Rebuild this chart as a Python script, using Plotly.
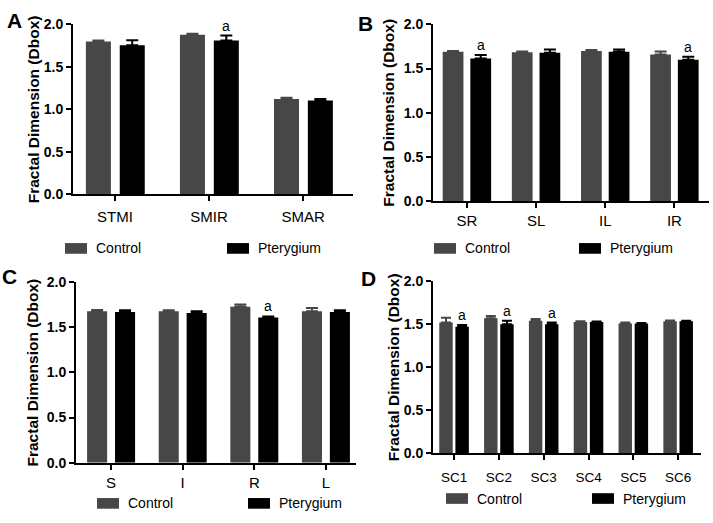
import plotly.graph_objects as go

# ---------------- data ----------------
a_cats = ["STMI", "SMIR", "SMAR"]
a_control = [1.80, 1.88, 1.12]
a_control_err = [0.01, 0.012, 0.015]
a_pter = [1.755, 1.81, 1.105]
a_pter_err = [0.06, 0.06, 0.017]
a_sig = [False, True, False]

b_cats = ["SR", "SL", "IL", "IR"]
b_control = [1.69, 1.685, 1.70, 1.66]
b_control_err = [0.01, 0.01, 0.01, 0.035]
b_pter = [1.615, 1.68, 1.69, 1.60]
b_pter_err = [0.04, 0.035, 0.025, 0.035]
b_sig = [True, False, False, True]

c_cats = ["S", "I", "R", "L"]
c_control = [1.68, 1.68, 1.73, 1.68]
c_control_err = [0.012, 0.01, 0.025, 0.035]
c_pter = [1.67, 1.66, 1.61, 1.67]
c_pter_err = [0.02, 0.02, 0.012, 0.02]
c_sig = [False, False, True, False]

d_cats = ["SC1", "SC2", "SC3", "SC4", "SC5", "SC6"]
d_control = [1.52, 1.57, 1.54, 1.525, 1.51, 1.535]
d_control_err = [0.055, 0.025, 0.02, 0.01, 0.01, 0.01]
d_pter = [1.47, 1.50, 1.50, 1.525, 1.51, 1.535]
d_pter_err = [0.02, 0.04, 0.02, 0.008, 0.006, 0.005]
d_sig = [True, True, True, False, False, False]

y_ticks = [0.0, 0.5, 1.0, 1.5, 2.0]
y_title = "Fractal Dimension (Dbox)"
series_names = ["Control", "Pterygium"]
panel_letters = ["A", "B", "C", "D"]

# ---------------- layout geometry (pixels) ----------------
W, H = 713, 523
CTRL_COLOR = "#474747"
PTER_COLOR = "#000000"
FONT = "Liberation Sans, Arial, sans-serif"

panels = [
    dict(cats=a_cats, c=a_control, ce=a_control_err, p=a_pter, pe=a_pter_err, sig=a_sig,
         x0=73, x1=353, ytop=17, ybot=192, xr=[-0.447, 2.53],
         off_c=-0.31, off_p=0.05, bw=0.266, ticksize=15, standoff=3,
         title_x=33, letter=(14, 13), leg_y=248, leg_c=65, leg_p=227, errw=6),
    dict(cats=b_cats, c=b_control, ce=b_control_err, p=b_pter, pe=b_pter_err, sig=b_sig,
         x0=433, x1=709, ytop=17, ybot=199, xr=[-0.49, 3.5],
         off_c=-0.35, off_p=0.05, bw=0.30, ticksize=15, standoff=0,
         title_x=389, letter=(365, 16), leg_y=248, leg_c=434, leg_p=579, errw=6),
    dict(cats=c_cats, c=c_control, ce=c_control_err, p=c_pter, pe=c_pter_err, sig=c_sig,
         x0=76, x1=356, ytop=283, ybot=469, xr=[-0.49, 3.42],
         off_c=-0.335, off_p=0.055, bw=0.28, ticksize=15, standoff=0,
         title_x=32, letter=(9, 277), leg_y=511, leg_c=97, leg_p=248, errw=6),
    dict(cats=d_cats, c=d_control, ce=d_control_err, p=d_pter, pe=d_pter_err, sig=d_sig,
         x0=433, x1=701, ytop=282, ybot=459, xr=[-0.47, 5.51],
         off_c=-0.33, off_p=0.03, bw=0.30, ticksize=13.5, standoff=6,
         title_x=393, letter=(368, 279), leg_y=506, leg_c=446, leg_p=592, errw=5),
]

fig = go.Figure()
annotations = []
shapes = []

for i, pn in enumerate(panels):
    k = "" if i == 0 else str(i + 1)
    xa, ya = "x" + k, "y" + k
    idx = list(range(len(pn["cats"])))
    for vals, errs, off, col, name in [
        (pn["c"], pn["ce"], pn["off_c"], CTRL_COLOR, series_names[0]),
        (pn["p"], pn["pe"], pn["off_p"], PTER_COLOR, series_names[1]),
    ]:
        fig.add_trace(go.Bar(
            x=idx, y=vals, width=pn["bw"], offset=off, name=name,
            marker=dict(color=col, line=dict(width=0)),
            error_y=dict(type="data", symmetric=False, array=errs,
                         arrayminus=[0] * len(errs), color=col,
                         thickness=2, width=pn["errw"]),
            xaxis=xa, yaxis=ya, showlegend=False,
        ))
    # significance marks
    for j, s in enumerate(pn["sig"]):
        if s:
            annotations.append(dict(
                x=j + pn["off_p"] + pn["bw"] / 2, y=pn["p"][j] + pn["pe"][j],
                xref=xa, yref=ya, text="a", showarrow=False,
                yanchor="bottom", yshift=0,
                font=dict(family=FONT, size=14, color="black")))
    dom_x = [pn["x0"] / W, pn["x1"] / W]
    dom_y = [1 - pn["ybot"] / H, 1 - pn["ytop"] / H]
    fig.layout["xaxis" + k] = dict(
        domain=dom_x, range=pn["xr"], anchor=ya,
        tickvals=idx, ticktext=pn["cats"], ticks="outside", ticklen=5,
        tickwidth=2, tickcolor="black", showline=True, linewidth=2,
        linecolor="black", showgrid=False, zeroline=False,
        ticklabelstandoff=pn["standoff"],
        tickfont=dict(family=FONT, size=pn["ticksize"], color="black"),
    )
    fig.layout["yaxis" + k] = dict(
        domain=dom_y, range=[0, 2.0], anchor=xa,
        tickvals=y_ticks, ticktext=[f"{v:.1f}" for v in y_ticks],
        ticks="outside", ticklen=5, tickwidth=2, tickcolor="black",
        showline=True, linewidth=2, linecolor="black",
        showgrid=False, zeroline=False,
        tickfont=dict(family=FONT, size=14, color="black", weight="bold"),
    )
    # y title
    annotations.append(dict(
        x=pn["title_x"] / W, y=1 - (pn["ytop"] + pn["ybot"]) / 2 / H,
        xref="paper", yref="paper", text=y_title, textangle=-90,
        showarrow=False, xanchor="center", yanchor="middle",
        font=dict(family=FONT, size=15.5, color="black", weight="bold")))
    # panel letter
    annotations.append(dict(
        x=pn["letter"][0] / W, y=1 - pn["letter"][1] / H,
        xref="paper", yref="paper", text=panel_letters[i], showarrow=False,
        xanchor="center", yanchor="middle",
        font=dict(family=FONT, size=21, color="black", weight="bold")))
    # legend
    for lx, col, name in [(pn["leg_c"], CTRL_COLOR, series_names[0]),
                          (pn["leg_p"], PTER_COLOR, series_names[1])]:
        shapes.append(dict(
            type="rect", xref="paper", yref="paper",
            x0=lx / W, x1=(lx + 22) / W,
            y0=1 - (pn["leg_y"] + 5.5) / H, y1=1 - (pn["leg_y"] - 5.5) / H,
            fillcolor=col, line=dict(width=0)))
        annotations.append(dict(
            x=(lx + 29) / W, y=1 - pn["leg_y"] / H, xref="paper", yref="paper",
            text=name, showarrow=False, xanchor="left", yanchor="middle",
            font=dict(family=FONT, size=14, color="black")))

fig.update_layout(
    width=W, height=H, margin=dict(l=0, r=0, t=0, b=0),
    paper_bgcolor="white", plot_bgcolor="white",
    annotations=annotations, shapes=shapes, barmode="overlay",
    font=dict(family=FONT, color="black"),
)
fig.write_html(
    "out.html",
    config={"displayModeBar": False},
    post_script="document.body.style.margin='0';document.body.style.overflow='hidden';",
)
